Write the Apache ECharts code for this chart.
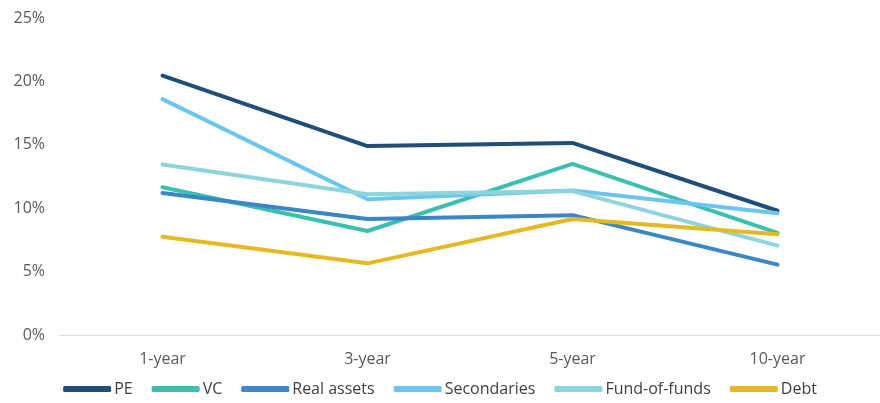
<!DOCTYPE html>
<html><head><meta charset="utf-8">
<script src="https://cdn.jsdelivr.net/npm/echarts@6/dist/echarts.min.js"></script>
<style>html,body{margin:0;padding:0;background:#fff}#c{width:880px;height:403px}</style>
</head><body><div id="c"></div>
<script>
const categories = ['1-year','3-year','5-year','10-year'];
const PE = [20.45, 14.9, 15.15, 9.8];
const VC = [11.65, 8.2, 13.5, 8.05];
const RealAssets = [11.2, 9.15, 9.45, 5.55];
const Secondaries = [18.6, 10.7, 11.4, 9.6];
const FundOfFunds = [13.45, 11.1, 11.35, 7.05];
const Debt = [7.75, 5.65, 9.15, 7.95];
const yTicks = [0, 5, 10, 15, 20, 25];

const seriesDefs = [
  ['PE', PE, '#1f4e7a'],
  ['VC', VC, '#3cbfae'],
  ['Real assets', RealAssets, '#3a86c6'],
  ['Secondaries', Secondaries, '#6cc5ef'],
  ['Fund-of-funds', FundOfFunds, '#8dd4dc'],
  ['Debt', Debt, '#e4b923']
];
const chart = echarts.init(document.getElementById('c'));
const font = "'Open Sans', 'Noto Sans', sans-serif";
chart.setOption({
  animation: false,
  color: seriesDefs.map(s => s[2]),
  grid: {left: 60, right: 0, top: 18, bottom: 68},
  legend: {
    bottom: 1, left: 'center',
    itemWidth: 48, itemHeight: 6, itemGap: 19,
    icon: 'roundRect',
    textStyle: {color: '#404040', fontSize: 16, fontFamily: font, padding: [0,0,0,-2]},
    data: seriesDefs.map(s => s[0])
  },
  xAxis: {
    type: 'category', data: categories, boundaryGap: true,
    axisLine: {show: true, lineStyle: {color: '#d9d9d9'}},
    axisTick: {show: false},
    axisLabel: {color: '#595959', fontSize: 16, fontFamily: font, margin: 16}
  },
  yAxis: {
    type: 'value', min: yTicks[0], max: yTicks[yTicks.length-1], interval: 5,
    splitLine: {show: false},
    axisLine: {show: false}, axisTick: {show: false},
    axisLabel: {color: '#595959', fontSize: 16, fontFamily: font, margin: 15, formatter: v => v + '%'}
  },
  series: seriesDefs.map(s => ({
    name: s[0], type: 'line', data: s[1], symbol: 'none', smooth: false,
    lineStyle: {width: 4, color: s[2], cap: 'round', join: 'round'}
  }))
});
</script></body></html>
